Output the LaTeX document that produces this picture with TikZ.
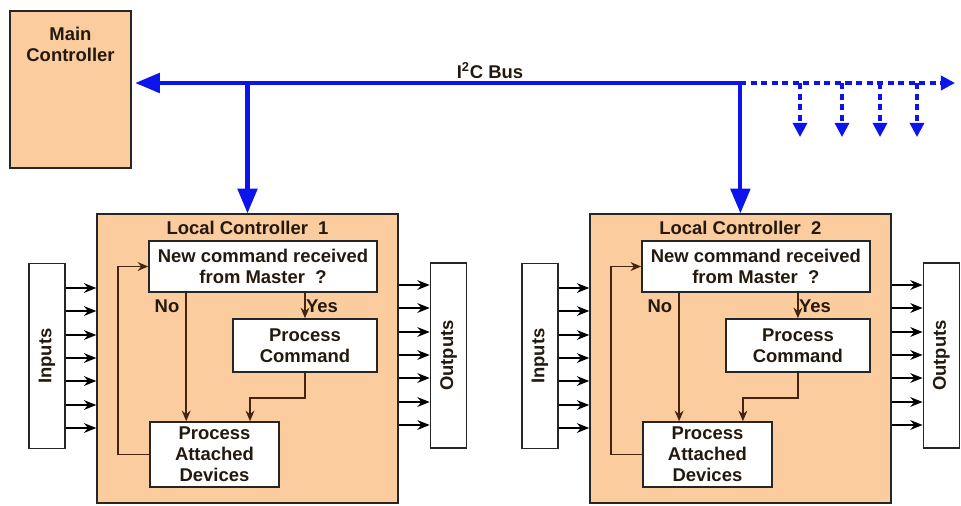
\documentclass[tikz,border=0pt]{standalone}
\usepackage{fontspec}
\setmainfont{Liberation Sans}
\usetikzlibrary{arrows.meta, positioning, calc}
\definecolor{boxorange}{RGB}{250,204,158}
\definecolor{busblue}{RGB}{12,20,235}
\definecolor{flowbrown}{RGB}{70,35,15}
\definecolor{textdark}{RGB}{35,25,15}
\tikzset{
  ctrl/.style={rectangle, draw=black!85, fill=boxorange, line width=0.8pt, inner sep=0pt},
  taskbox/.style={rectangle, draw=black!85, fill=white, line width=0.9pt,
    align=center, font=\fontsize{10.5}{12}\selectfont\bfseries, text=textdark, inner sep=0pt},
  iobox/.style={rectangle, draw=black!85, fill=white, line width=0.9pt,
    minimum width=0.72cm, minimum height=3.7cm, inner sep=0pt,
    font=\fontsize{10.5}{12}\selectfont\bfseries, text=textdark},
  lbl/.style={font=\fontsize{10.5}{12}\selectfont\bfseries, text=textdark, align=center, inner sep=1pt},
  flow/.style={-{Stealth[length=6pt, width=5pt]}, line width=1.1pt, color=flowbrown},
  io/.style={-{Stealth[length=7pt, width=5.5pt]}, line width=1.1pt, color=black}
}

\begin{document}
\begin{tikzpicture}[x=0.02cm, y=-0.02cm,
  bus/.style={line width=2.3pt, color=busblue},
  busarrow/.style={bus, -{Triangle[length=14pt, width=11pt]}},
  tapline/.style={line width=1.8pt, color=busblue, dash pattern=on 3.5pt off 2.5pt,
    -{Triangle[length=8pt, width=8pt]}}]

  \useasboundingbox (0,0) rectangle (961,505);

  % Main controller
  \node[ctrl, minimum width=2.42cm, minimum height=3.14cm,
    label={[lbl, anchor=north, yshift=-0.3cm]north:{Main\\Controller}}] (mc) at (70.5,89.5) {};

  % Local controllers with their I/O
  \foreach \i/\dx in {1/0cm, 2/9.86cm} {
    \begin{scope}[xshift=\dx]
      \node[ctrl, minimum width=6.02cm, minimum height=5.78cm] (lc\i) at (247.5,358.5) {};
      \node[lbl] (lct\i) at (247.5,228) {Local Controller~ \i};
      \node[taskbox, minimum width=4.56cm, minimum height=1.02cm] (cmd\i) at (263,266.5) {New command received\\from Master~ ?};
      \node[taskbox, minimum width=2.88cm, minimum height=1.06cm] (pc\i) at (305,345.5) {Process\\Command};
      \node[taskbox, minimum width=2.58cm, minimum height=1.30cm] (pad\i) at (214.5,454.5) {Process\\Attached\\Devices};
      \node[iobox] (inp\i) at (47,356) {\rotatebox{90}{Inputs}};
      \node[iobox] (out\i) at (448.5,355.5) {\rotatebox{90}{Outputs}};

      % Flow inside the controller
      \draw[flow] ([xshift=0.76cm]cmd\i.south west) -- ([xshift=0.76cm]cmd\i.south west |- pad\i.north);
      \draw[flow] (pc\i.north |- cmd\i.south) -- (pc\i.north);
      \draw[flow] (pc\i.south) -- ++(0,-0.5cm) -| ([xshift=0.71cm]pad\i.north);
      \draw[flow] (pad\i.west) -- ++(-0.62cm,0) |- (cmd\i.west);
      \node[lbl] (no\i) at (167,306) {No};
      \node[lbl] (yes\i) at (322,306) {Yes};

      % Inputs and outputs
      \foreach \y in {288,311,335,358,381,405,428}
        \draw[io] (inp\i.east |- 0,\y) -- (lc\i.west |- 0,\y);
      \foreach \y in {285,308,332,355,378,402,425}
        \draw[io] (lc\i.east |- 0,\y) -- (out\i.west |- 0,\y);
    \end{scope}
  }

  % I2C bus
  \coordinate (tee) at (740,83);
  \coordinate (busfar) at (955,83);
  \draw[busarrow, shorten >=2pt] ([xshift=1.15pt]tee) -- (tee -| mc.east);
  \draw[busarrow] (tee -| lc1.north) -- (lc1.north);
  \draw[busarrow] ([yshift=1.15pt]tee -| lc2.north) -- (lc2.north);
  \draw[tapline, line width=2.3pt] (tee) -- (busfar);
  \foreach \x [count=\n] in {800,842,880,917} {
    \coordinate (tap\n) at (\x,137);
    \draw[tapline] (tap\n |- tee) -- (tap\n);
  }
  \node[lbl] (buslbl) at (490,71) {I\textsuperscript{2}C Bus};
\end{tikzpicture}
\end{document}
